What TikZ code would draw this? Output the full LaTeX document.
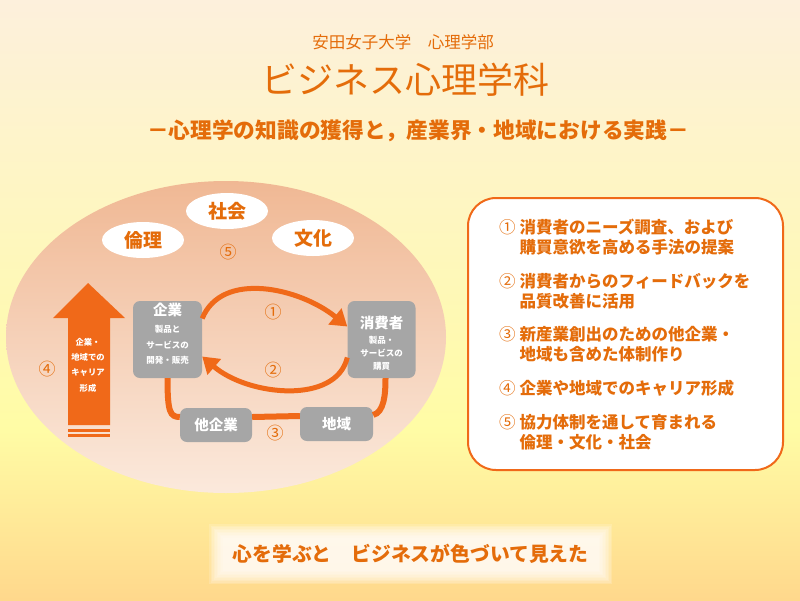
\documentclass[tikz,border=0pt]{standalone}
\usepackage{fontspec}
\setmainfont{Noto Sans CJK JP}
\usetikzlibrary{shapes.geometric,arrows.meta,positioning}
\definecolor{bizorange}{RGB}{228,108,10}
\definecolor{arroworange}{RGB}{240,105,25}
\definecolor{boxgray}{RGB}{166,166,166}
\definecolor{bgtop}{RGB}{253,240,220}
\definecolor{bgmid}{RGB}{255,252,165}
\definecolor{bgbot}{RGB}{255,216,140}
\definecolor{ovaltop}{RGB}{240,184,148}
\definecolor{ovalbot}{RGB}{251,233,220}
\newcommand{\fs}[1]{\fontsize{#1}{#1}\selectfont}
\tikzset{
  wordoval/.style={ellipse, fill=white, text=bizorange, font=\fs{19}\bfseries, minimum width=82pt, minimum height=36pt, inner sep=0pt},
  graybox/.style={rounded corners=7pt, fill=boxgray, inner sep=0pt},
  boxtitle/.style={text=white, font=\fs{14.5}\bfseries, inner sep=0pt},
  boxsub/.style={text=white, align=center, inner sep=0pt},
  flow/.style={draw=arroworange, line width=5pt},
  flowtip/.style={-{Triangle[length=16pt,width=20pt]}},
  num/.style={text=bizorange, font=\fs{17}, inner sep=0pt},
  infoitem/.style={text=bizorange, font=\fontsize{16.5}{19.5}\selectfont\bfseries, inner sep=0pt, anchor=west},
}
\begin{document}
\begin{tikzpicture}[x=1pt, y=-1pt]
    \useasboundingbox (0,0) rectangle (800,600);
    % background
    \shade [top color=bgtop, bottom color=bgmid] (0,0) rectangle (800,430);
    \shade [top color=bgmid, bottom color=bgbot] (0,430) rectangle (800,600);

    % titles
    \node [text=bizorange, font=\fs{16.5}] (dept) at (403,42) {安田女子大学　心理学部};
    \node [text=bizorange, font=\fs{36}] (title) at (405,80) {ビジネス心理学科};
    \node [text=bizorange, font=\fs{21.7}\bfseries] (subtitle) at (418,131) {－心理学の知識の獲得と，産業界・地域における実践－};

    % big oval
    \shade [top color=ovaltop, bottom color=ovalbot] (226,337) ellipse [x radius=220, y radius=156];

    %for 5
    \node [wordoval] (rinri) at (143,240) {倫理};
    \node [wordoval] (shakai) at (227,211) {社会};
    \node [wordoval] (bunka) at (313,238) {文化};
    \node [num] (n5) at (228,252) {⑤};

    %for 4
    \fill [arroworange] (68,425) -- (68,318) -- (53,318) -- (88,283) -- (125,318) -- (110,318) -- (110,425) -- cycle;
    \fill [arroworange] (68,428.5) rectangle (110,431.5);
    \fill [arroworange] (68,434) rectangle (110,437);
    \node [boxsub, font=\fontsize{8.3}{15.3}\selectfont\bfseries] (career) at (88,365) {企業・\\地域での\\キャリア\\形成};
    \node [num] (n4) at (47,369) {④};

    % boxes
    \node [graybox, minimum width=69pt, minimum height=77pt] (kigyo) at (167.5,339.5) {};
    \node [boxtitle] (kigyoT) at ([yshift=-9pt]kigyo.north) {企業};
    \node [boxsub, font=\fontsize{8.5}{15.5}\selectfont\bfseries] (kigyoS) at ([yshift=-44pt]kigyo.north) {製品と\\サービスの\\開発・販売};

    \node [graybox, minimum width=68pt, minimum height=77pt] (shohi) at (381.5,339.5) {};
    \node [boxtitle] (shohiT) at ([yshift=-22pt]shohi.north) {消費者};
    \node [boxsub, font=\fontsize{8.5}{13}\selectfont\bfseries] (shohiS) at ([yshift=-52pt]shohi.north) {製品・\\サービスの\\購買};

    \node [graybox, minimum width=72pt, minimum height=34pt] (taki) at (216,425) {};
    \node [boxtitle] (takiT) at (taki) {他企業};
    \node [graybox, minimum width=73pt, minimum height=34pt] (chiiki) at (336.5,424) {};
    \node [boxtitle] (chiikiT) at (chiiki) {地域};

    %for 1
    \draw [flow, flowtip] ([yshift=21pt]kigyo.east) .. controls (222,270) and (300,288) .. ([yshift=13pt]shohi.west);
    \node [num] (n1) at (273,312) {①};
    %for 2
    \draw [flow, flowtip] ([yshift=-18pt]shohi.west) .. controls (336,405) and (248,396) .. ([yshift=-17pt]kigyo.east);
    \node [num] (n2) at (273,370) {②};
    %for 3
    \draw [flow, line width=6pt] (kigyo.south) .. controls (167.5,412) and (170,417) .. ([yshift=8pt]taki.west);
    \draw [flow, line width=6pt] ([yshift=8pt]taki.east) -- ([yshift=8pt]chiiki.west);
    \draw [flow, line width=6pt] ([yshift=9pt]chiiki.east) .. controls (384,412) and (385.5,395) .. ([xshift=4pt]shohi.south);
    \node [num] (n3) at (275,433) {③};

    % right box
    \node [draw=arroworange, line width=2pt, fill=white, rounded corners=28pt, minimum width=315pt, minimum height=272pt] (info) at (625.5,334) {};
    \node [infoitem] (item1) at (499,239) {\begin{tabular}{@{}l@{\hspace{4pt}}l@{}}{\mdseries ①}&消費者のニーズ調査、および\\&購買意欲を高める手法の提案\end{tabular}};
    \node [infoitem] (item2) at (499,293.5) {\begin{tabular}{@{}l@{\hspace{4pt}}l@{}}{\mdseries ②}&消費者からのフィードバックを\\&品質改善に活用\end{tabular}};
    \node [infoitem] (item3) at (499,346) {\begin{tabular}{@{}l@{\hspace{4pt}}l@{}}{\mdseries ③}&新産業創出のための他企業・\\&地域も含めた体制作り\end{tabular}};
    \node [infoitem] (item4) at (499,390) {\begin{tabular}{@{}l@{\hspace{4pt}}l@{}}{\mdseries ④}&企業や地域でのキャリア形成\end{tabular}};
    \node [infoitem] (item5) at (499,434) {\begin{tabular}{@{}l@{\hspace{4pt}}l@{}}{\mdseries ⑤}&協力体制を通して育まれる\\&倫理・文化・社会\end{tabular}};

    % bottom banner
    \foreach \g in {0,...,9}
        \node [fill=white, opacity=0.16, inner sep=0pt, minimum width=403pt-\g*3pt, minimum height=60pt-\g*3pt] at (410.5,554) {};
    \node [text=bizorange, font=\fs{19.8}\bfseries] (banner) at (410.5,554) {心を学ぶと　ビジネスが色づいて見えた};
\end{tikzpicture}
\end{document}
